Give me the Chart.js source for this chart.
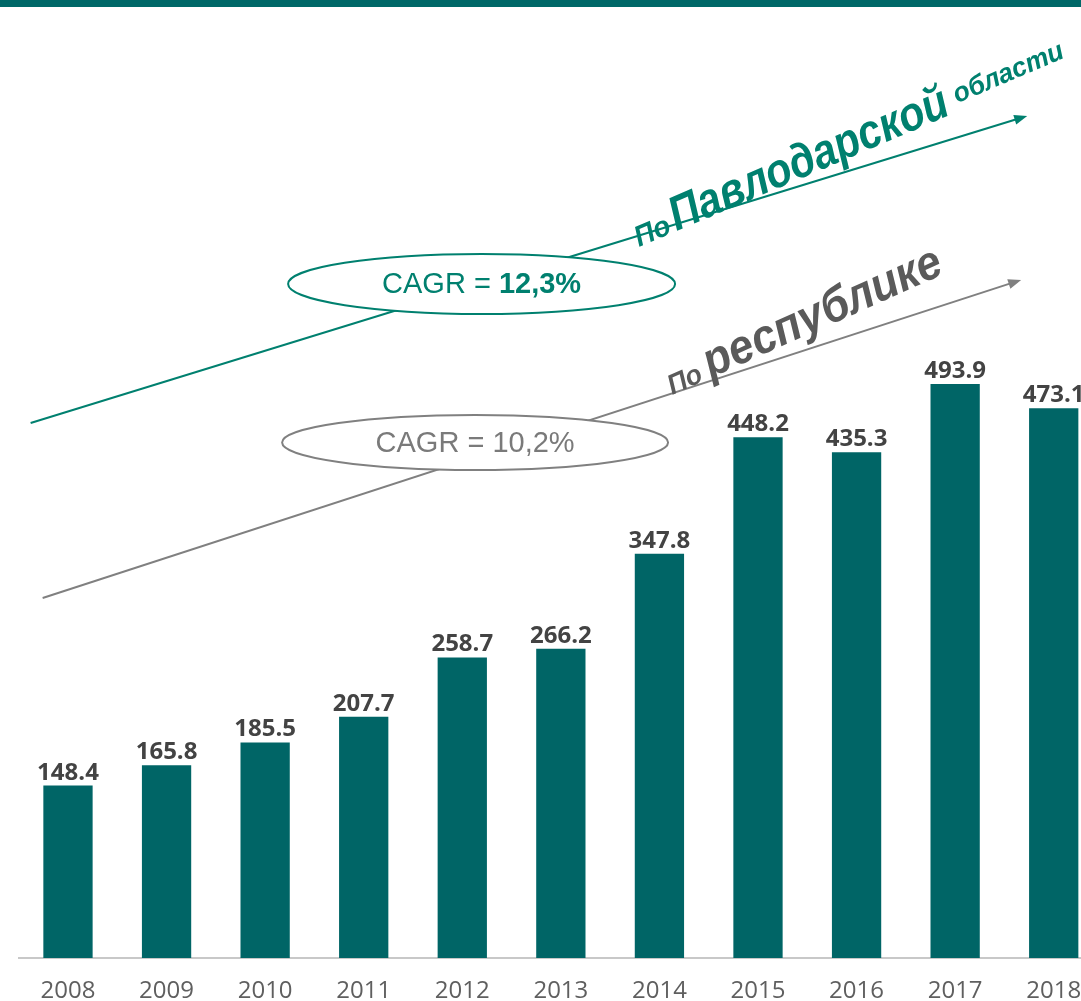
<!DOCTYPE html>
<html><head><meta charset="utf-8">
<script src="https://cdn.jsdelivr.net/npm/chart.js@4/dist/chart.umd.min.js"></script>
<style>
html,body{margin:0;padding:0;overflow:hidden;background:#fff;width:1081px;height:1001px}
canvas{display:block;position:absolute;left:0;top:0}
</style>
</head><body>
<canvas id="c" width="1103" height="1001"></canvas>
<script>
const years = ['2008','2009','2010','2011','2012','2013','2014','2015','2016','2017','2018'];
const values = [148.4,165.8,185.5,207.7,258.7,266.2,347.8,448.2,435.3,493.9,473.1];
const regionTitle = ['По','Павлодарской','области'];
const countryTitle = ['По','республике'];
const regionCagr = ['CAGR = ','12,3%'];
const countryCagr = 'CAGR = 10,2%';

const TEAL_BAR = '#006566';
const TEAL = '#00806f';
const GRAY_LINE = '#808080';
const GRAY_TEXT = '#5a5a5a';

// annotation anchors in data units: [category index, value]
const notes = {
  regionArrow: {from:[-0.379,460.4], to:[9.731,724.6], color:TEAL},
  countryArrow:{from:[-0.257,309.8], to:[9.670,583.5], color:GRAY_LINE},
  regionEllipse:{at:[4.196,580.0], rx:193.5, ry:30, color:TEAL},
  countryEllipse:{at:[4.130,443.6], rx:193, ry:27.5, color:GRAY_LINE},
  regionText:{at:[5.794,611.9], angle:-23, color:TEAL},
  countryText:{at:[6.129,484.5], angle:-24, color:GRAY_TEXT}
};

const overlay = {
  id:'overlay',
  beforeDraw(chart){
    const ctx = chart.ctx;
    ctx.save();
    ctx.fillStyle = '#006868';
    ctx.fillRect(0,0,chart.width,7);
    ctx.restore();
  },
  afterDatasetsDraw(chart){
    const ctx = chart.ctx, xs = chart.scales.x, ys = chart.scales.y;
    const P = a => [xs.getPixelForValue(a[0]), ys.getPixelForValue(a[1])];
    ctx.save();
    // data labels
    const meta = chart.getDatasetMeta(0);
    ctx.font = 'bold 24px "Open Sans"';
    ctx.fillStyle = '#434343';
    ctx.textAlign = 'center';
    ctx.textBaseline = 'alphabetic';
    meta.data.forEach((bar,i)=>{
      ctx.fillText(values[i].toFixed(1), bar.x, bar.y - 6);
    });
    // arrows
    [notes.regionArrow, notes.countryArrow].forEach(a=>{
      const [x1,y1] = P(a.from), [x2,y2] = P(a.to);
      ctx.strokeStyle = a.color; ctx.fillStyle = a.color; ctx.lineWidth = 2;
      const ang = Math.atan2(y2-y1,x2-x1);
      const hl = 13, hw = 5;
      ctx.beginPath(); ctx.moveTo(x1,y1);
      ctx.lineTo(x2 - Math.cos(ang)*hl*0.8, y2 - Math.sin(ang)*hl*0.8); ctx.stroke();
      ctx.beginPath();
      ctx.moveTo(x2,y2);
      ctx.lineTo(x2 - Math.cos(ang)*hl - Math.sin(ang)*hw, y2 - Math.sin(ang)*hl + Math.cos(ang)*hw);
      ctx.lineTo(x2 - Math.cos(ang)*hl + Math.sin(ang)*hw, y2 - Math.sin(ang)*hl - Math.cos(ang)*hw);
      ctx.closePath(); ctx.fill();
    });
    // ellipses
    [notes.regionEllipse, notes.countryEllipse].forEach(e=>{
      const [cx,cy] = P(e.at);
      ctx.beginPath(); ctx.ellipse(cx,cy,e.rx,e.ry,0,0,Math.PI*2);
      ctx.fillStyle = '#fff'; ctx.fill();
      ctx.strokeStyle = e.color; ctx.lineWidth = 2; ctx.stroke();
    });
    // CAGR texts
    {
      const [cx,cy] = P(notes.regionEllipse.at);
      const f1 = '29px "Liberation Sans"', f2 = 'bold 29px "Liberation Sans"';
      ctx.font = f1; const w1 = ctx.measureText(regionCagr[0]).width;
      ctx.font = f2; const w2 = ctx.measureText(regionCagr[1]).width;
      let x = cx - (w1+w2)/2;
      ctx.textAlign = 'left'; ctx.textBaseline = 'middle'; ctx.fillStyle = TEAL;
      ctx.font = f1; ctx.fillText(regionCagr[0], x, cy+1);
      ctx.font = f2; ctx.fillText(regionCagr[1], x+w1, cy+1);
    }
    {
      const [cx,cy] = P(notes.countryEllipse.at);
      ctx.font = '29px "Liberation Sans"';
      ctx.textAlign = 'center'; ctx.textBaseline = 'middle'; ctx.fillStyle = '#7a7a7a';
      ctx.fillText(countryCagr, cx, cy+1);
    }
    // rotated titles
    const drawRot = (n, parts) => {
      const [ox,oy] = P(n.at);
      ctx.save();
      ctx.translate(ox,oy); ctx.rotate(n.angle*Math.PI/180);
      ctx.fillStyle = n.color; ctx.textAlign='left'; ctx.textBaseline='alphabetic';
      let x = 0;
      parts.forEach(p=>{
        ctx.font = 'italic bold '+p.size+'px "Liberation Sans"';
        ctx.save();
        ctx.translate(x, -(p.rise||0));
        ctx.scale(p.sx,1);
        ctx.fillText(p.t, 0, 0);
        ctx.restore();
        x += ctx.measureText(p.t).width*p.sx + p.gap;
      });
      ctx.restore();
    };
    drawRot(notes.regionText, [
      {t:regionTitle[0], size:29, sx:0.95, gap:4},
      {t:regionTitle[1], size:48, sx:0.87, gap:9},
      {t:regionTitle[2], size:27, sx:0.98, gap:0, rise:8}
    ]);
    drawRot(notes.countryText, [
      {t:countryTitle[0], size:28, sx:0.95, gap:7},
      {t:countryTitle[1], size:48, sx:0.92, gap:0}
    ]);
    ctx.restore();
  }
};

new Chart(document.getElementById('c'), {
  type:'bar',
  data:{labels:years, datasets:[{data:values, backgroundColor:TEAL_BAR, barPercentage:0.5, categoryPercentage:1.0}]},
  options:{
    responsive:false, animation:false, devicePixelRatio:1,
    layout:{padding:{left:18.7, right:0, top:0, bottom:0}},
    plugins:{legend:{display:false}, tooltip:{enabled:false}},
    scales:{
      x:{
        grid:{display:false, drawTicks:false},
        border:{display:true, color:'#c8c8c8', width:2},
        ticks:{color:'#5f5f5f', font:{family:'"Open Sans"', size:24}, padding:19, maxRotation:0, autoSkip:false},
        afterFit(s){ s.height = 43; }
      },
      y:{display:false, min:0, max:824.4}
    }
  },
  plugins:[overlay]
});
</script>
</body></html>
